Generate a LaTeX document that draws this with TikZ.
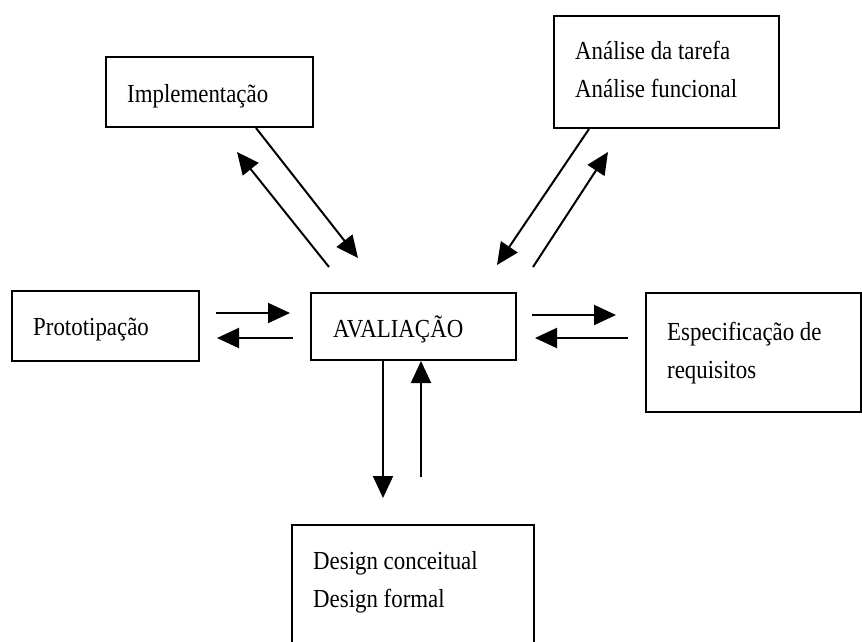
\documentclass[tikz,border=0pt]{standalone}
\usepackage{fontspec}
\setmainfont{Liberation Serif}[FakeStretch=0.88]
\usepackage{tikz}
\usetikzlibrary{arrows.meta}
\newcommand{\espessura}{2pt}
\newcommand{\ponta}{Triangle[length=22pt,width=20pt]}
\tikzset{caixa/.style={draw, line width=\espessura, anchor=north west, inner sep=0pt},
  rotulo/.style={anchor=base west, align=left, inner sep=0pt, font=\fontsize{26}{38}\selectfont},
  seta/.style={line width=\espessura, -{\ponta}}}

\begin{document}
\begin{tikzpicture}[x=1pt, y=-1pt]
\clip (0,0) rectangle (862,641);
% caixas
\node[caixa, minimum width=207pt, minimum height=70pt] (impl) at (105,56) {};
\node[caixa, minimum width=225pt, minimum height=112pt] (analise) at (553,15) {};
\node[caixa, minimum width=187pt, minimum height=70pt] (proto) at (11,290) {};
\node[caixa, minimum width=205pt, minimum height=67pt] (aval) at (310,292) {};
\node[caixa, minimum width=215pt, minimum height=119pt] (espec) at (645,292) {};
\node[caixa, minimum width=242pt, minimum height=140pt] (design) at (291,524) {};
% textos (base = ultima linha)
\node[rotulo] (timpl) at (127,102) {Implementação};
\node[rotulo] (tanalise) at (575,97) {Análise da tarefa\\Análise funcional};
\node[rotulo] (tproto) at (33,335) {Prototipação};
\node[rotulo] (taval) at (333,337) {AVALIAÇÃO};
\node[rotulo] (tespec) at (667,378) {Especificação de\\requisitos};
\node[rotulo] (tdesign) at (313,607) {Design conceitual\\Design formal};
% pontas soltas
\coordinate (a1) at (358,258);
\coordinate (b0) at (329,267);
\coordinate (b1) at (237,152);
\coordinate (c1) at (497,265);
\coordinate (d0) at (533,267);
\coordinate (d1) at (608,152);
\coordinate (e0) at (216,313);
\coordinate (e1) at (290,313);
\coordinate (e2) at (293,338);
\coordinate (e3) at (217,338);
\coordinate (f0) at (532,315);
\coordinate (f1) at (616,315);
\coordinate (f2) at (628,338);
\coordinate (f3) at (535,338);
\coordinate (g1) at (383,498);
\coordinate (h0) at (421,477);
% setas
\draw[seta] ([xshift=151pt]impl.south west) -- (a1);
\draw[seta] (b0) -- (b1);
\draw[seta] ([xshift=36pt]analise.south west) -- (c1);
\draw[seta] (d0) -- (d1);
\draw[seta] (e0) -- (e1);
\draw[seta] (e2) -- (e3);
\draw[seta] (f0) -- (f1);
\draw[seta] (f2) -- (f3);
\draw[seta] (g1 |- aval.south) -- (g1);
\draw[seta] (h0) -- (h0 |- aval.south);
\end{tikzpicture}
\end{document}
